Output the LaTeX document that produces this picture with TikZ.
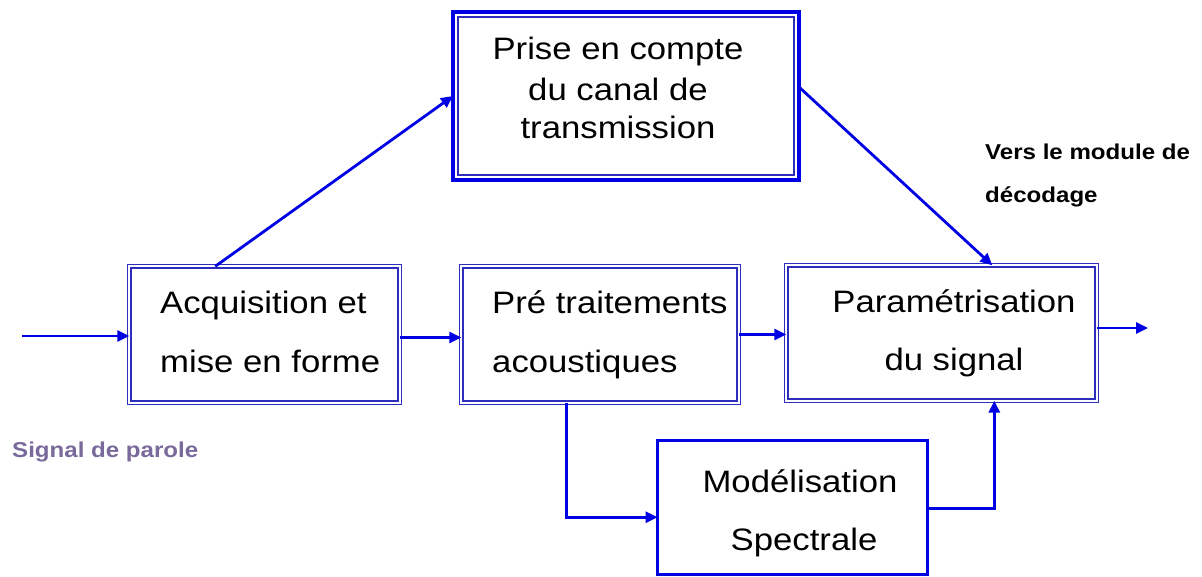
\documentclass[tikz,border=0pt]{standalone}
\usepackage{fontspec}
\setmainfont{Liberation Sans}[FakeStretch=1.12]
\usetikzlibrary{arrows.meta,calc}
\definecolor{flow}{RGB}{0,0,228}
\definecolor{frame}{RGB}{45,45,190}
\definecolor{note}{RGB}{122,106,156}
\begin{document}
\begin{tikzpicture}[x=1pt,y=-1pt,
  dblbox/.style={draw=frame,line width=1.4pt,double=white,double distance=2pt,
    inner sep=0pt,outer sep=0pt},
  heavybox/.style={draw=flow,line width=4pt,inner sep=0pt,outer sep=0pt},
  plainbox/.style={draw=flow,line width=3pt,inner sep=0pt,outer sep=0pt},
  flowline/.style={draw=flow,line width=2.8pt,
    -{Triangle[length=12pt,width=11pt]}},
  boxtext/.style={inner sep=0pt,font=\fontsize{31}{37}\selectfont},
  sidetext/.style={inner sep=0pt,font=\fontsize{21.5}{26}\selectfont\bfseries,anchor=base west}]
\useasboundingbox (0,0) rectangle (1202,576);

% blocks
\node[dblbox,minimum width=270.4pt,minimum height=136.4pt] (acq) at (264.5,334.5) {};
\node[dblbox,minimum width=277.4pt,minimum height=136.4pt] (pre) at (600,334.5) {};
\node[dblbox,minimum width=310.4pt,minimum height=135.4pt] (par) at (941.5,333) {};
\node[heavybox,minimum width=346pt,minimum height=168pt] (top) at (626,96) {};
\node[plainbox,minimum width=270pt,minimum height=133.5pt] (mod) at (792.5,507.25) {};
\draw[frame,line width=1.3pt] ($(top.north west)+(5,5)$) rectangle ($(top.south east)+(-5,-5)$);

% block labels
\node[boxtext,anchor=base west] (acq1) at (160,313) {Acquisition et};
\node[boxtext,anchor=base west] (acq2) at (160,372) {mise en forme};
\node[boxtext,anchor=base west] (pre1) at (492,313) {Pré traitements};
\node[boxtext,anchor=base west] (pre2) at (492,372) {acoustiques};
\node[boxtext,anchor=base] (par1) at (954,312) {Paramétrisation};
\node[boxtext,anchor=base] (par2) at (954,370) {du signal};
\node[boxtext,anchor=base] (top1) at (618,59) {Prise en compte};
\node[boxtext,anchor=base] (top2) at (618,100) {du canal de};
\node[boxtext,anchor=base] (top3) at (618,138) {transmission};
\node[boxtext,anchor=base] (mod1) at (800,492) {Modélisation};
\node[boxtext,anchor=base] (mod2) at (804,550) {Spectrale};

% side notes
\node[sidetext] (out1) at (985,159) {Vers le module de};
\node[sidetext] (out2) at (985,202) {décodage};
\node[sidetext,text=note] (sig) at (12,457) {Signal de parole};

% connectors
\coordinate (in) at (22,336);
\coordinate (out) at (1148,328);
\draw[flowline] (in) -- (in -| acq.west);
\draw[flowline] ($(acq.east)+(0,3)$) -- ($(pre.west)+(0,3)$);
\draw[flowline] (pre.east) -- (pre.east -| par.west);
\draw[flowline] (par.east |- out) -- (out);
\draw[flowline] ($(acq.north west)+(86,0)$) -- (top.west);
\draw[flowline] ($(top.east)+(0,-9)$) -- ($(par.north west)+(206,0)$);
\draw[flowline] ($(pre.south west)+(105,0)$) |- ($(mod.west)+(0,10)$);
\draw[flowline] ($(mod.east)+(0,1)$) -| ($(par.south west)+(208,0)$);
\end{tikzpicture}
\end{document}
